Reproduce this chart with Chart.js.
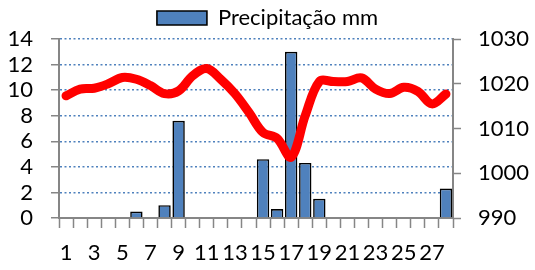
<!DOCTYPE html>
<html>
<head>
<meta charset="utf-8">
<title>Precipitação e pressão</title>
<script src="https://cdn.jsdelivr.net/npm/chart.js@4.4.0/dist/chart.umd.min.js"></script>
<style>
  html, body { margin: 0; padding: 0; background: #fff; }
  #wrap { width: 535px; height: 270px; }
</style>
</head>
<body>
<div id="wrap"><canvas id="myChart"></canvas></div>
<script>
// dias do mês
const days = [];
for (let d = 1; d <= 28; d++) days.push(String(d));

// precipitação (mm), eixo esquerdo
const precip = [0, 0, 0, 0, 0, 0.5, 0, 1.0, 7.6, 0,
                0, 0, 0, 0, 4.6, 0.7, 13.0, 4.3, 1.5, 0,
                0, 0, 0, 0, 0, 0, 0, 2.3];

// pressão (hPa), eixo direito
const pressure = [1017.3, 1018.8, 1019.0, 1020.0, 1021.4, 1021.0, 1019.6, 1017.8, 1018.4, 1021.8,
                  1023.4, 1021.0, 1017.8, 1013.6, 1009.1, 1007.8, 1003.6, 1012.9, 1020.5, 1020.5,
                  1020.5, 1021.3, 1018.8, 1017.8, 1019.2, 1018.3, 1015.5, 1017.7];

const FONT = "Lato, 'Open Sans', sans-serif";
const GRAY = "#868686";

new Chart("myChart", {
  data: {
    labels: days,
    datasets: [
      {
        type: "line",
        label: "Pressão",
        data: pressure,
        yAxisID: "y2",
        borderColor: "#ff0000",
        borderWidth: 9,
        pointRadius: 0,
        tension: 0.35,
        borderCapStyle: "round",
        borderJoinStyle: "round",
        order: 0
      },
      {
        type: "bar",
        label: "Precipitação mm",
        data: precip,
        yAxisID: "y",
        backgroundColor: "#4f81bd",
        borderColor: "#000000",
        borderWidth: 1.6,
        barPercentage: 0.88,
        categoryPercentage: 1.0,
        order: 1
      }
    ]
  },
  options: {
    responsive: true,
    maintainAspectRatio: false,
    animation: false,
    layout: { padding: { left: 0, right: 0, top: 0, bottom: 0 } },
    plugins: {
      tooltip: { enabled: false },
      legend: {
        position: "top",
        labels: {
          filter: item => item.text === "Precipitação mm",
          boxWidth: 50,
          boxHeight: 14,
          padding: 7,
          color: "#000",
          font: { family: FONT, size: 22 }
        }
      }
    },
    scales: {
      x: {
        grid: {
          drawOnChartArea: false,
          offset: true,
          tickLength: 10,
          tickColor: GRAY,
          tickWidth: 1.5
        },
        border: { color: GRAY, width: 2 },
        ticks: {
          autoSkip: false,
          maxRotation: 0,
          padding: 12,
          color: "#000",
          font: { family: FONT, size: 22 },
          callback: function (val, i) { return i % 2 === 0 ? this.getLabelForValue(val) : ""; }
        },
        afterFit: s => { s.height = 52; }
      },
      y: {
        position: "left",
        min: 0,
        max: 14,
        ticks: {
          stepSize: 2,
          autoSkip: false,
          padding: 18,
          color: "#000",
          font: { family: FONT, size: 22 }
        },
        grid: {
          color: "#4f81bd",
          lineWidth: 1.5,
          tickColor: GRAY,
          tickLength: 8,
          tickWidth: 1.5
        },
        border: { color: GRAY, width: 2, dash: [2, 2.5] },
        afterFit: s => { s.width = 59; }
      },
      y2: {
        position: "right",
        min: 990,
        max: 1030,
        ticks: {
          stepSize: 10,
          autoSkip: false,
          padding: 17,
          color: "#000",
          font: { family: FONT, size: 22 },
          callback: v => String(v)
        },
        grid: {
          drawOnChartArea: false,
          tickColor: GRAY,
          tickLength: 8,
          tickWidth: 1.5
        },
        border: { color: GRAY, width: 2 },
        afterFit: s => { s.width = 82; }
      }
    }
  }
});
</script>
</body>
</html>
